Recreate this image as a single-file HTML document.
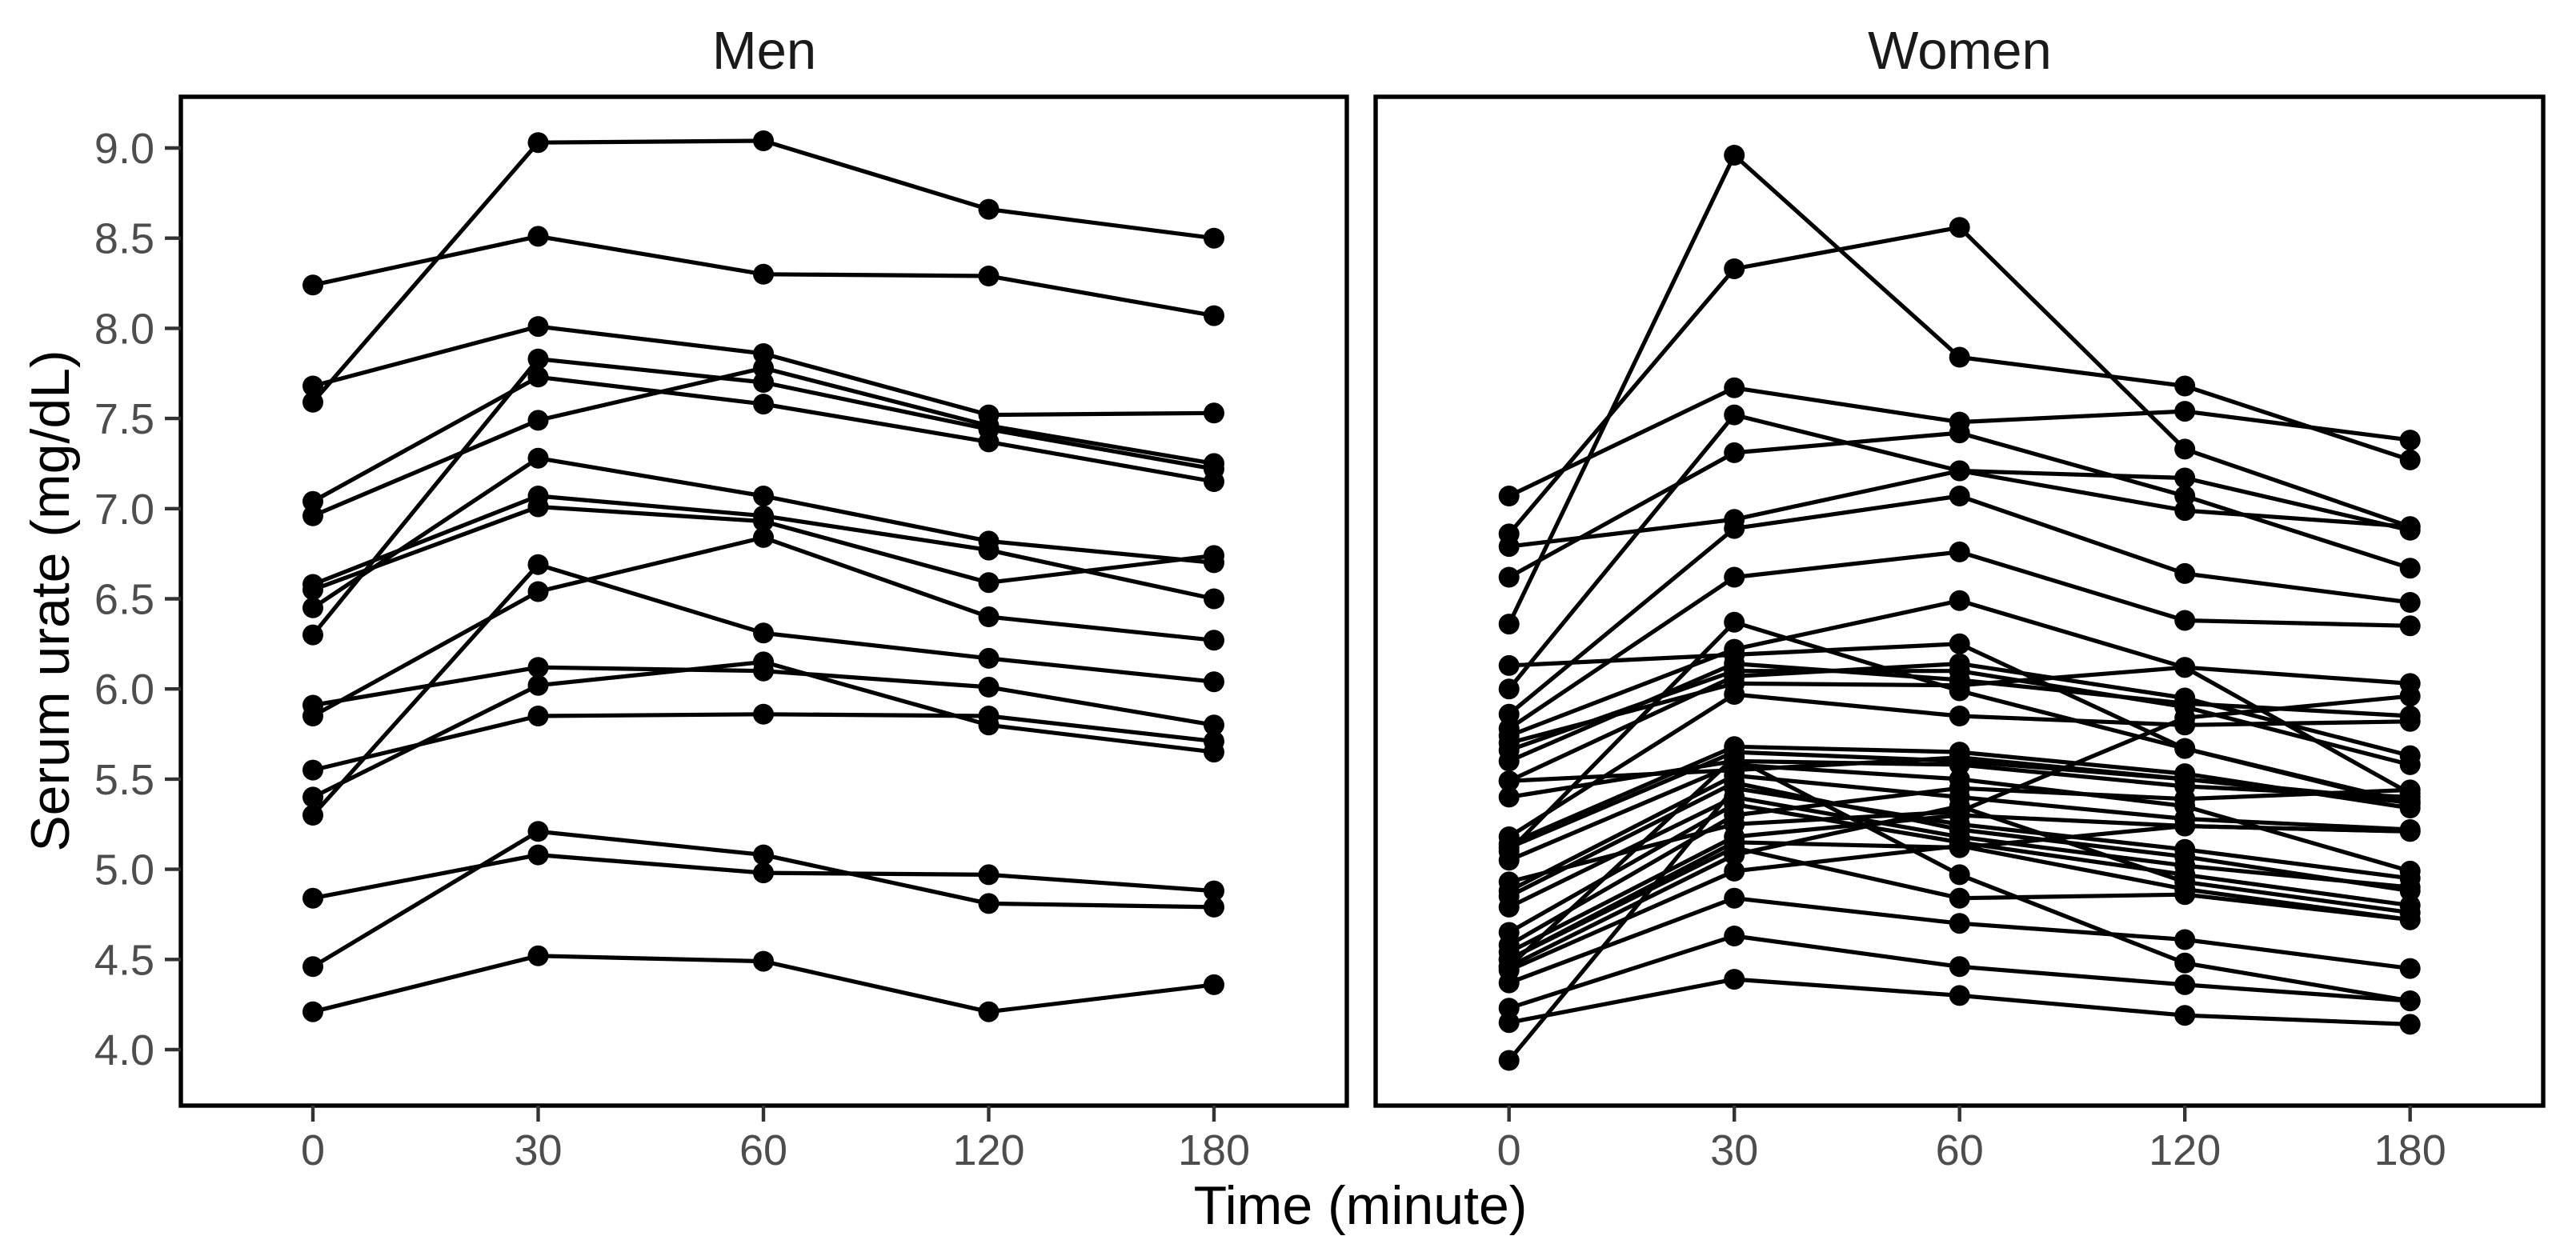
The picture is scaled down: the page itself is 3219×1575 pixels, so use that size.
<!DOCTYPE html>
<html lang="en">
<head>
<meta charset="utf-8">
<title>Serum urate over time: men and women</title>
<style>
html,body{margin:0;padding:0;background:#fff;}
svg{display:block;font-family:"Liberation Sans",Arial,sans-serif;}
</style>
</head>
<body>
<svg id="chart" xmlns="http://www.w3.org/2000/svg" width="3219" height="1575" viewBox="0 0 3219 1575">
  <rect x="0" y="0" width="3219" height="1575" fill="#ffffff"/>
  <g id="men-panel"></g>
  <g id="women-panel"></g>
  <text x="955" y="86" font-size="67" text-anchor="middle" fill="#1a1a1a">Men</text>
  <text x="2449" y="86" font-size="67" text-anchor="middle" fill="#1a1a1a">Women</text>
  <text transform="translate(86 751) rotate(-90)" font-size="68" text-anchor="middle" fill="#000000">Serum urate (mg/dL)</text>
  <text x="1700" y="1530" font-size="68" text-anchor="middle" fill="#000000">Time (minute)</text>
</svg>
<script>
const timeLabels = ["0", "30", "60", "120", "180"];
const yTickValues = [4.0, 4.5, 5.0, 5.5, 6.0, 6.5, 7.0, 7.5, 8.0, 8.5, 9.0];

const menUrate = [
  [7.59, 9.03, 9.04, 8.66, 8.50],
  [8.24, 8.51, 8.30, 8.29, 8.07],
  [7.68, 8.01, 7.86, 7.52, 7.53],
  [7.04, 7.73, 7.58, 7.37, 7.15],
  [6.96, 7.49, 7.78, 7.46, 7.25],
  [6.30, 7.83, 7.70, 7.44, 7.22],
  [6.45, 7.28, 7.07, 6.82, 6.70],
  [6.58, 7.07, 6.96, 6.77, 6.50],
  [6.55, 7.01, 6.93, 6.59, 6.74],
  [5.85, 6.54, 6.84, 6.40, 6.27],
  [5.30, 6.69, 6.31, 6.17, 6.04],
  [5.91, 6.12, 6.10, 6.01, 5.80],
  [5.40, 6.02, 6.15, 5.80, 5.65],
  [5.55, 5.85, 5.86, 5.85, 5.71],
  [4.46, 5.21, 5.08, 4.81, 4.79],
  [4.84, 5.08, 4.98, 4.97, 4.88],
  [4.21, 4.52, 4.49, 4.21, 4.36]
];

const womenUrate = [
  [6.36, 8.96, 7.84, 7.68, 7.27],
  [6.86, 8.33, 8.56, 7.33, 6.90],
  [6.79, 6.94, 7.21, 7.17, 6.88],
  [6.62, 7.31, 7.42, 7.07, 6.67],
  [6.00, 7.52, 7.21, 6.99, 6.90],
  [7.07, 7.67, 7.48, 7.54, 7.38],
  [5.86, 6.89, 7.07, 6.64, 6.48],
  [5.78, 6.62, 6.76, 6.38, 6.35],
  [5.10, 6.37, 5.99, 5.67, 5.37],
  [4.93, 5.25, 5.32, 5.84, 5.96],
  [4.15, 4.39, 4.30, 4.19, 4.14],
  [4.23, 4.63, 4.46, 4.36, 4.27],
  [4.37, 4.84, 4.70, 4.61, 4.45],
  [4.46, 5.62, 4.97, 4.48, 4.27],
  [4.50, 5.12, 4.84, 4.86, 4.72],
  [6.13, 6.19, 6.25, 5.67, 5.36],
  [5.74, 6.22, 6.49, 6.12, 5.42],
  [5.49, 6.07, 6.14, 5.95, 5.63],
  [5.70, 6.03, 6.02, 6.12, 6.03],
  [5.66, 6.10, 6.10, 5.90, 5.58],
  [5.60, 6.14, 6.05, 5.92, 5.85],
  [5.18, 5.97, 5.85, 5.80, 5.82],
  [5.14, 5.68, 5.65, 5.53, 5.34],
  [5.49, 5.55, 5.62, 5.50, 5.37],
  [5.40, 5.60, 5.58, 5.46, 5.40],
  [5.12, 5.65, 5.60, 5.50, 5.38],
  [5.05, 5.58, 5.50, 5.35, 4.99],
  [4.88, 5.52, 5.40, 5.28, 5.22],
  [4.85, 5.48, 5.22, 5.07, 4.88],
  [3.94, 5.45, 5.25, 5.11, 4.95],
  [4.79, 5.40, 5.18, 5.02, 4.90],
  [4.65, 5.36, 5.15, 4.97, 4.80],
  [4.58, 5.30, 5.45, 5.39, 5.44],
  [4.54, 5.18, 5.30, 5.24, 5.21],
  [4.50, 5.15, 5.12, 5.24, 5.21],
  [4.46, 5.08, 5.35, 4.93, 4.76],
  [4.44, 4.99, 5.13, 4.89, 4.72]
];

const SVG_NS = "http://www.w3.org/2000/svg";

function yScale(v) {
  return 1312 - (v - 4) * 225.4;
}

function xScale(index, firstX) {
  return firstX + index * 281.5;
}

function drawPanel(group, panelName, series, firstX, left, right, showYAxis) {
  const top = 121, bottom = 1382;

  const bg = document.createElementNS(SVG_NS, "rect");
  bg.setAttribute("x", left);
  bg.setAttribute("y", top);
  bg.setAttribute("width", right - left);
  bg.setAttribute("height", bottom - top);
  bg.setAttribute("fill", "#ffffff");
  
  
  group.appendChild(bg);

  series.forEach(function (values) {
    const line = document.createElementNS(SVG_NS, "polyline");
    const pts = values.map(function (v, i) {
      return xScale(i, firstX).toFixed(1) + "," + yScale(v).toFixed(1);
    }).join(" ");
    line.setAttribute("points", pts);
    line.setAttribute("fill", "none");
    line.setAttribute("stroke", "#000000");
    line.setAttribute("stroke-width", "5.2");
    line.setAttribute("stroke-linejoin", "round");
    
    
    group.appendChild(line);
  });

  series.forEach(function (values) {
    values.forEach(function (v, i) {
      const dot = document.createElementNS(SVG_NS, "circle");
      dot.setAttribute("cx", xScale(i, firstX).toFixed(1));
      dot.setAttribute("cy", yScale(v).toFixed(1));
      dot.setAttribute("r", "13");
      dot.setAttribute("fill", "#000000");
      
      
      group.appendChild(dot);
    });
  });

  const border = document.createElementNS(SVG_NS, "rect");
  border.setAttribute("x", left);
  border.setAttribute("y", top);
  border.setAttribute("width", right - left);
  border.setAttribute("height", bottom - top);
  border.setAttribute("fill", "none");
  border.setAttribute("stroke", "#000000");
  border.setAttribute("stroke-width", "5.4");
  
  
  group.appendChild(border);

  timeLabels.forEach(function (label, i) {
    const x = xScale(i, firstX);
    const tick = document.createElementNS(SVG_NS, "line");
    tick.setAttribute("x1", x);
    tick.setAttribute("x2", x);
    tick.setAttribute("y1", bottom);
    tick.setAttribute("y2", bottom + 20);
    tick.setAttribute("stroke", "#333333");
    tick.setAttribute("stroke-width", "4.4");
    
    
    group.appendChild(tick);

    const text = document.createElementNS(SVG_NS, "text");
    text.setAttribute("x", x);
    text.setAttribute("y", 1456);
    text.setAttribute("font-size", "54");
    text.setAttribute("text-anchor", "middle");
    text.setAttribute("fill", "#4d4d4d");
    
    
    text.textContent = label;
    group.appendChild(text);
  });

  if (showYAxis) {
    yTickValues.forEach(function (v) {
      const y = yScale(v);
      const tick = document.createElementNS(SVG_NS, "line");
      tick.setAttribute("x1", left - 20);
      tick.setAttribute("x2", left);
      tick.setAttribute("y1", y);
      tick.setAttribute("y2", y);
      tick.setAttribute("stroke", "#333333");
      tick.setAttribute("stroke-width", "4.4");
      
      
      group.appendChild(tick);

      const text = document.createElementNS(SVG_NS, "text");
      text.setAttribute("x", left - 33);
      text.setAttribute("y", y + 19);
      text.setAttribute("font-size", "54");
      text.setAttribute("text-anchor", "end");
      text.setAttribute("fill", "#4d4d4d");
      
      
      text.textContent = v.toFixed(1);
      group.appendChild(text);
    });
  }
}

drawPanel(document.getElementById("men-panel"), "men", menUrate, 391, 226, 1683, true);
drawPanel(document.getElementById("women-panel"), "women", womenUrate, 1885.7, 1719, 3178, false);
</script>
</body>
</html>
